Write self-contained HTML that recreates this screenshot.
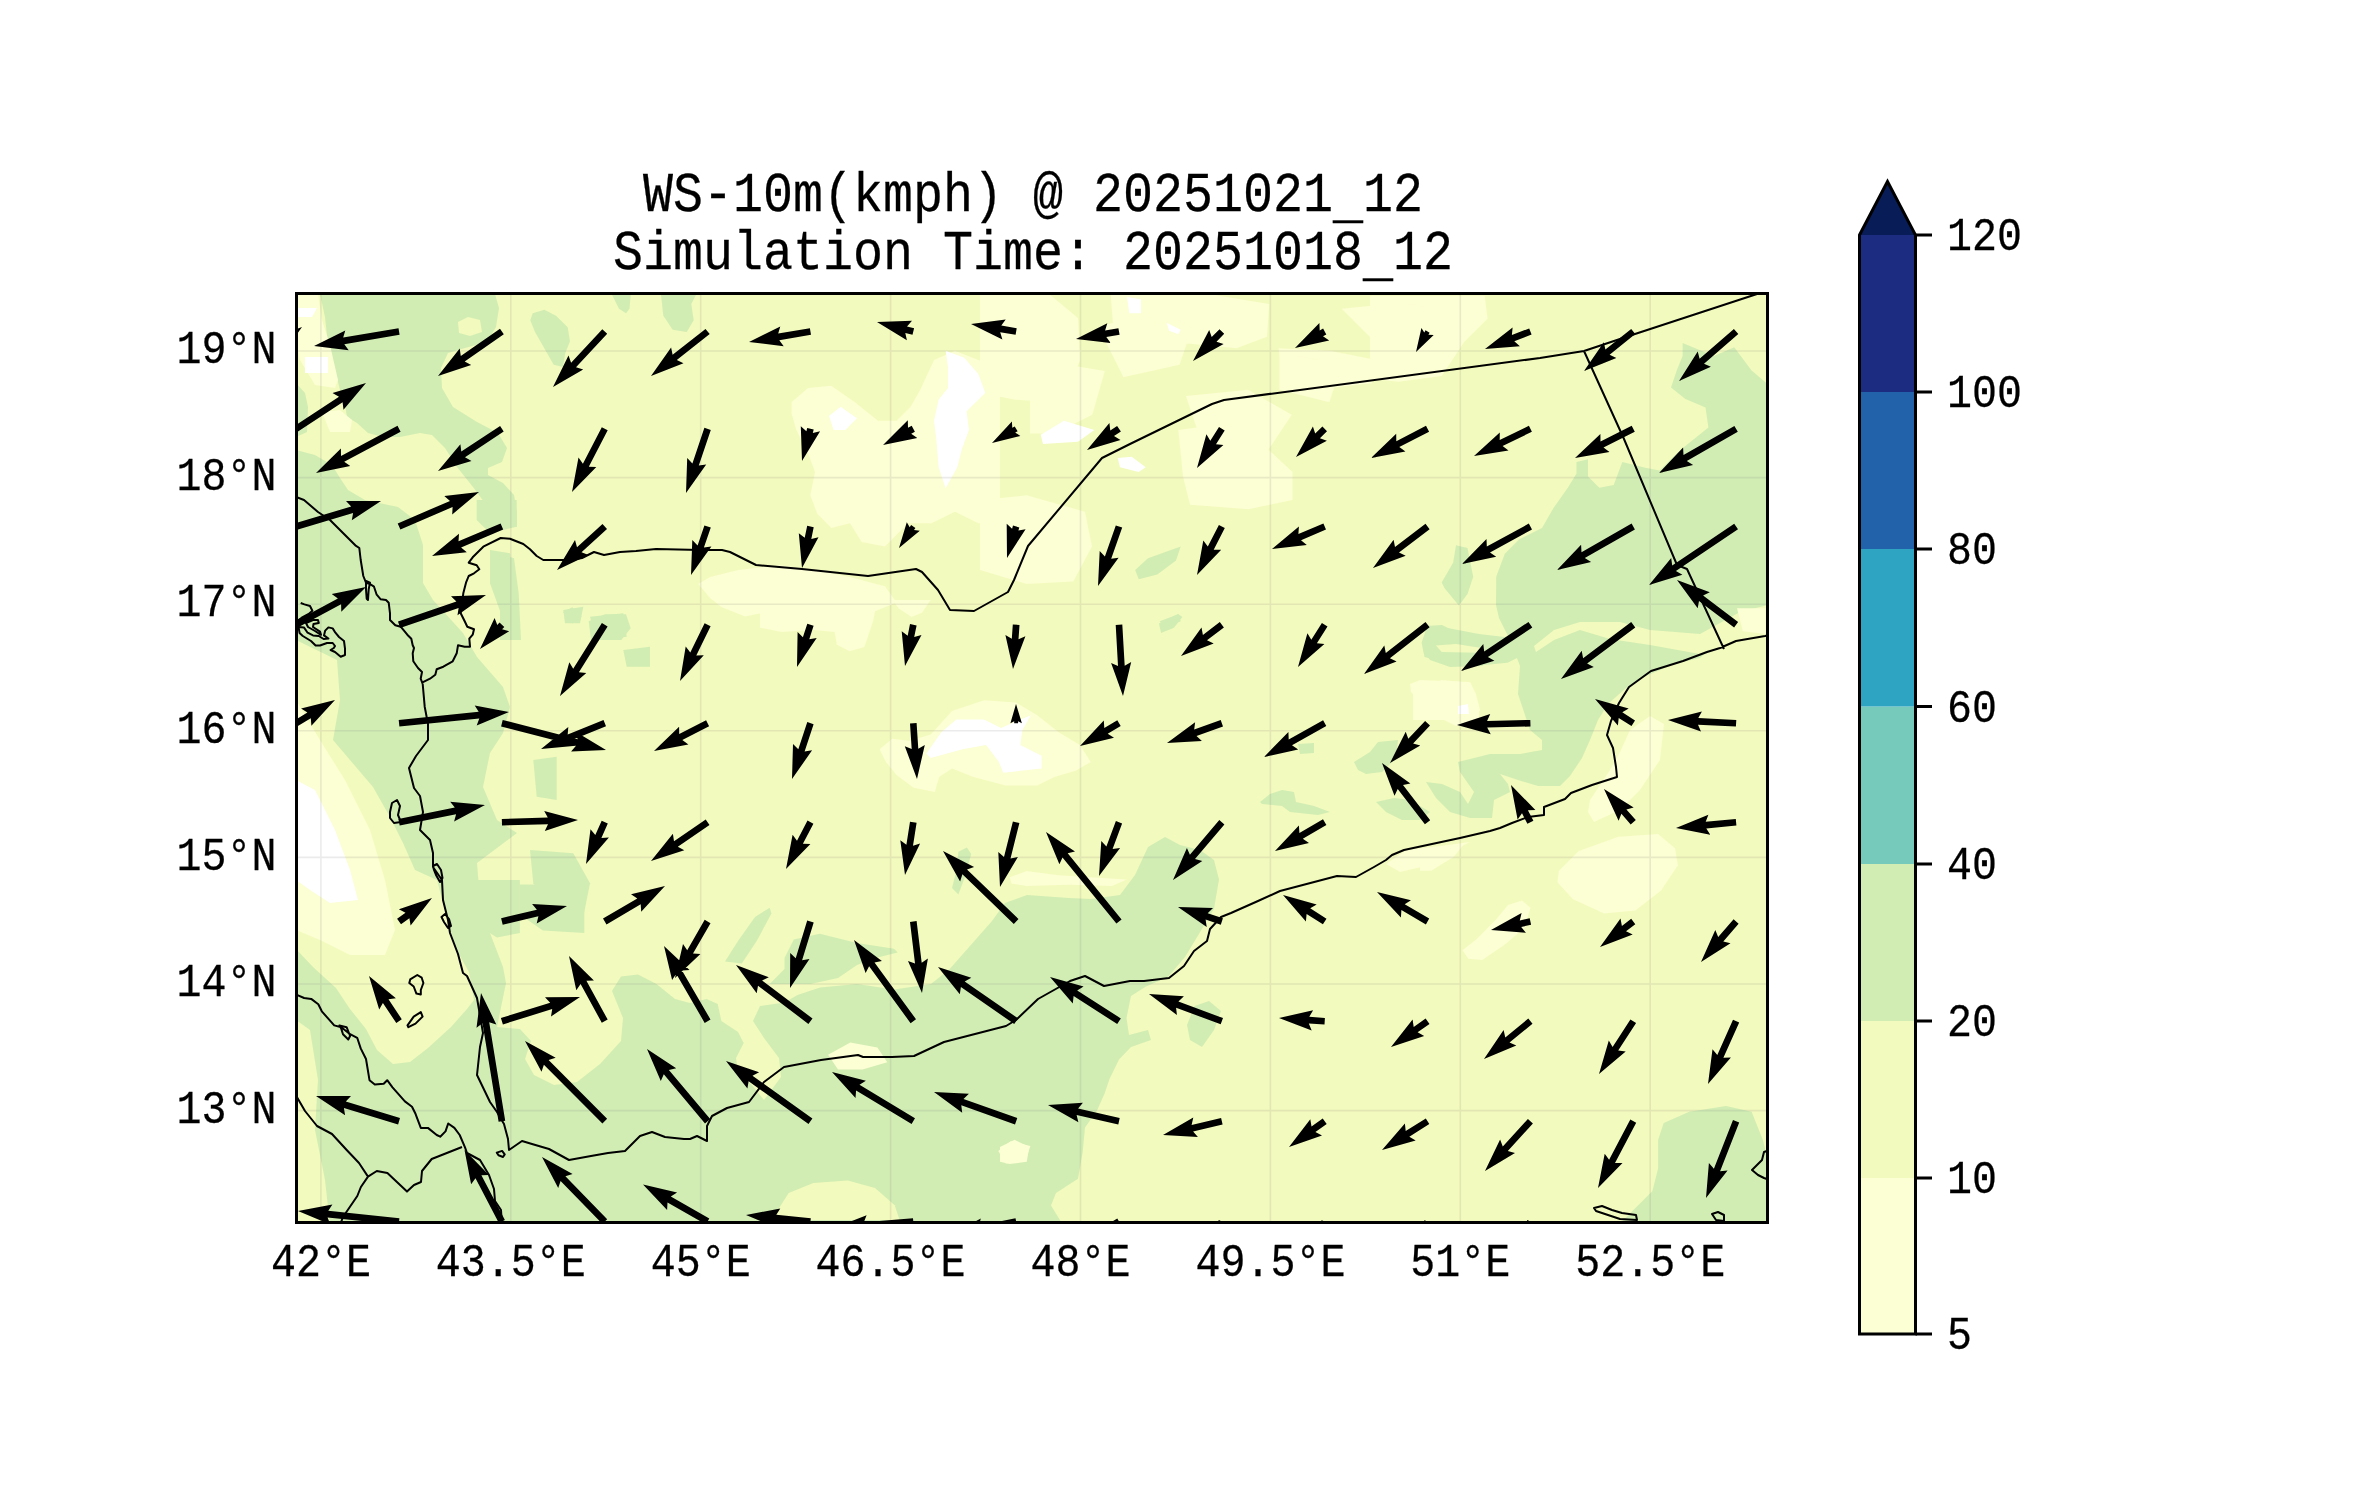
<!DOCTYPE html><html><head><meta charset="utf-8"><style>html,body{margin:0;padding:0;background:#fff;overflow:hidden}svg{display:block;will-change:transform}text{font-family:"Liberation Mono",monospace;fill:#000;stroke:#000;stroke-width:0.25px}</style></head><body>
<svg width="2371" height="1500" viewBox="0 0 2371 1500">
<rect width="2371" height="1500" fill="#fff"/>
<defs><clipPath id="ax"><rect x="296.5" y="293.5" width="1471.0" height="929.0"/></clipPath></defs>
<g clip-path="url(#ax)">
<rect x="296.5" y="293.5" width="1471.0" height="929.0" fill="#f3fabd"/>
<polygon fill="#d1edb3" points="320.0,294.0 495.0,294.0 499.0,308.0 496.0,327.0 487.0,342.0 465.0,348.0 448.0,353.0 441.0,368.0 442.0,388.0 453.0,407.0 477.0,422.0 498.0,433.0 507.0,448.0 502.0,462.0 488.0,468.0 488.0,475.0 503.0,483.0 514.0,495.0 517.0,512.0 517.0,527.0 505.0,527.0 490.0,510.0 473.0,487.0 457.0,467.0 445.0,448.0 432.0,435.0 420.0,433.0 400.0,437.0 383.0,437.0 368.0,433.0 357.0,423.0 347.0,417.0 345.0,405.0 340.0,390.0 335.0,370.0 328.0,345.0 325.0,317.0"/>
<polygon fill="#d1edb3" points="296.0,383.0 305.0,393.0 308.0,407.0 307.0,432.0 296.0,437.0"/>
<polygon fill="#d1edb3" points="296.0,450.0 315.0,455.0 332.0,465.0 340.0,478.0 348.0,490.0 365.0,500.0 398.0,507.0 415.0,520.0 423.0,545.0 423.0,583.0 433.0,600.0 463.0,633.0 477.0,657.0 503.0,687.0 510.0,707.0 503.0,733.0 490.0,753.0 483.0,787.0 497.0,820.0 517.0,833.0 477.0,863.0 480.0,900.0 490.0,933.0 503.0,967.0 506.0,983.0 497.0,1027.0 520.0,1029.0 531.0,1041.0 525.0,1059.0 534.0,1075.0 554.0,1085.0 577.0,1082.0 600.0,1064.0 621.0,1041.0 623.0,1018.0 612.0,991.0 621.0,976.5 638.0,974.6 656.5,984.0 675.0,999.0 690.0,1003.0 706.6,999.0 717.7,1004.0 721.4,1021.0 738.0,1032.0 743.7,1043.0 736.0,1058.0 738.0,1073.0 751.0,1084.0 764.0,1100.0 781.0,1077.0 779.0,1058.0 764.0,1038.0 753.0,1021.0 760.0,1006.0 784.5,1002.5 797.5,995.0 820.0,987.6 857.0,984.0 894.0,989.5 931.0,984.0 949.7,969.0 992.0,921.0 1005.0,903.0 1027.0,895.0 1069.0,898.0 1091.0,899.0 1120.0,895.0 1135.0,875.0 1148.0,847.0 1165.0,837.0 1180.0,845.0 1200.0,850.0 1214.0,860.0 1219.0,879.5 1214.0,908.7 1199.5,933.0 1185.0,957.0 1168.0,977.0 1146.0,986.5 1131.0,996.0 1126.5,1018.0 1129.0,1035.0 1148.0,1030.0 1151.0,1040.0 1131.0,1047.0 1119.0,1059.5 1109.5,1079.0 1104.6,1093.5 1097.0,1110.6 1085.0,1127.6 1082.7,1152.0 1078.0,1178.7 1056.0,1193.0 1051.0,1205.5 1063.0,1225.0 296.0,1225.0"/>
<polygon fill="#d1edb3" points="1194.6,1006.0 1209.0,1001.0 1221.0,1011.0 1214.0,1030.0 1202.0,1047.0 1190.0,1040.0 1187.0,1025.0"/>
<polygon fill="#d1edb3" points="784.5,958.0 793.8,939.4 819.8,933.8 857.0,943.0 894.0,948.7 897.7,952.4 875.5,958.0 857.0,965.0 838.0,978.0 810.5,984.0 769.7,984.0 784.5,969.0"/>
<polygon fill="#d1edb3" points="725.0,961.6 738.0,941.0 755.0,917.0 769.7,907.8 771.5,913.4 756.7,941.0 741.8,963.5"/>
<polygon fill="#d1edb3" points="1682.6,343.0 1714.0,356.0 1734.2,347.3 1751.4,370.3 1768.0,384.6 1768.0,605.0 1740.0,612.0 1720.0,640.0 1700.0,658.0 1674.0,664.0 1646.0,676.0 1626.0,688.0 1608.0,704.0 1598.0,720.0 1590.0,740.0 1582.0,758.0 1570.0,776.0 1560.0,786.0 1538.0,786.0 1518.0,780.0 1500.0,774.0 1508.0,784.0 1510.0,792.0 1494.0,800.0 1492.0,818.0 1470.0,818.0 1450.0,812.0 1436.0,798.0 1426.0,782.0 1442.0,784.0 1460.0,792.0 1468.0,804.0 1474.0,792.0 1460.0,772.0 1458.0,762.0 1490.0,754.0 1520.0,754.0 1542.0,750.0 1542.0,740.0 1530.0,730.0 1524.0,712.0 1518.0,694.0 1520.0,666.0 1510.0,640.0 1499.0,618.0 1496.0,605.0 1496.2,576.7 1504.8,553.8 1519.0,539.5 1542.0,528.0 1553.5,508.0 1567.8,487.8 1576.5,473.5 1576.5,462.0 1588.0,459.2 1588.0,476.4 1599.4,487.8 1613.7,485.0 1622.3,462.0 1645.3,467.8 1659.6,470.6 1679.7,450.6 1708.4,427.6 1705.5,407.6 1685.4,399.0 1671.0,387.5 1676.8,370.3 1682.6,356.0"/>
<polygon fill="#d1edb3" points="1427.3,625.5 1450.3,628.4 1479.0,634.1 1504.8,637.0 1524.8,634.1 1530.6,651.3 1507.6,662.8 1479.0,665.6 1447.4,662.8 1424.5,657.0 1421.6,642.7"/>
<polygon fill="#d1edb3" points="1456.0,545.2 1467.5,548.1 1473.2,576.7 1467.5,593.9 1458.9,605.4 1444.6,588.2 1441.7,582.5 1453.2,562.4"/>
<polygon fill="#d1edb3" points="1354.0,762.0 1370.0,752.0 1378.0,742.0 1398.0,740.0 1396.0,758.0 1382.0,772.0 1366.0,774.0 1358.0,770.0"/>
<polygon fill="#d1edb3" points="1298.0,744.0 1314.0,743.0 1314.0,753.0 1300.0,754.0"/>
<polygon fill="#d1edb3" points="1260.0,802.0 1270.0,794.0 1282.0,790.0 1294.0,792.0 1296.0,802.0 1314.0,806.0 1330.0,812.0 1318.0,815.0 1290.0,812.0 1282.0,806.0 1262.0,804.0"/>
<polygon fill="#d1edb3" points="1376.0,802.0 1394.0,798.0 1410.0,800.0 1430.0,812.0 1420.0,820.0 1402.0,820.0 1386.0,812.0"/>
<polygon fill="#d1edb3" points="1426.0,626.0 1442.0,625.0 1462.0,635.0 1480.0,637.0 1480.0,652.0 1496.0,655.0 1482.0,666.0 1450.0,667.0 1430.0,660.0 1423.0,650.0 1430.0,646.0 1446.0,654.0 1470.0,652.0 1460.0,644.0 1442.0,640.0 1426.0,634.0"/>
<polygon fill="#d1edb3" points="1663.7,1123.1 1689.2,1111.7 1726.1,1106.1 1751.6,1111.7 1762.9,1140.1 1770.0,1168.4 1770.0,1225.1 1618.4,1225.1 1635.4,1208.1 1652.4,1191.1 1658.1,1168.4 1658.1,1140.1"/>
<polygon fill="#d1edb3" points="532.7,313.3 544.3,309.8 556.0,315.7 567.7,327.3 570.0,341.3 565.3,353.0 563.0,367.0 553.7,364.7 544.3,348.3 535.0,332.0 530.3,320.3"/>
<polygon fill="#d1edb3" points="612.0,294.7 630.7,294.7 629.5,308.7 626.0,313.3 619.0,308.7"/>
<polygon fill="#d1edb3" points="661.0,294.7 696.0,294.7 691.3,304.0 693.7,320.3 686.7,332.0 672.7,329.7 663.3,315.7"/>
<polygon fill="#d1edb3" points="500.0,553.6 514.0,558.3 518.7,593.3 521.0,640.0 500.0,640.0"/>
<polygon fill="#d1edb3" points="563.0,612.0 572.3,607.3 581.7,616.6 572.3,623.6"/>
<polygon fill="#d1edb3" points="588.7,621.3 605.0,614.3 626.0,614.3 630.7,628.3 621.3,640.0 591.0,640.0"/>
<polygon fill="#d1edb3" points="1135.2,570.0 1148.0,558.3 1180.7,546.6 1176.0,560.6 1157.3,574.6 1138.7,579.3"/>
<polygon fill="#d1edb3" points="1159.7,621.3 1178.3,614.3 1180.7,621.3 1164.3,628.3"/>
<polygon fill="#d1edb3" points="1158.9,623.5 1178.1,613.9 1182.4,617.1 1173.9,627.7 1161.1,633.1"/>
<polygon fill="#d1edb3" points="958.4,851.7 966.9,847.5 971.2,853.9 964.8,877.3 958.4,894.4 952.0,888.0 956.3,870.9"/>
<polygon fill="#d1edb3" points="476.7,500.0 516.7,500.0 516.7,526.7 490.0,533.3 476.7,520.0"/>
<polygon fill="#d1edb3" points="490.0,550.0 510.0,553.3 516.7,616.7 503.3,620.0 490.0,583.3"/>
<polygon fill="#d1edb3" points="530.0,850.0 573.3,853.3 590.0,883.3 583.3,916.7 556.7,913.3 533.3,883.3"/>
<polygon fill="#d1edb3" points="533.3,760.0 556.7,756.7 556.7,800.0 536.7,796.7"/>
<polygon fill="#d1edb3" points="563.3,610.0 583.3,606.7 580.0,623.3 565.0,623.3"/>
<polygon fill="#d1edb3" points="590.0,616.7 623.3,613.3 626.7,636.7 596.7,640.0"/>
<polygon fill="#d1edb3" points="623.3,650.0 650.0,646.7 650.0,666.7 626.7,666.7"/>
<polygon fill="#d1edb3" points="474.0,880.0 519.9,880.0 519.9,932.9 496.9,937.5 478.5,926.0"/>
<polygon fill="#d1edb3" points="519.9,884.6 584.3,884.6 584.3,932.9 542.9,930.6 519.9,914.5"/>
<polygon fill="#f3fabd" points="296.0,640.0 337.0,660.0 340.0,700.0 333.0,740.0 350.0,760.0 373.0,787.0 390.0,817.0 403.0,843.0 415.0,870.0 437.0,880.0 446.0,914.0 456.0,949.0 469.0,972.0 474.0,1000.0 467.0,1009.0 451.0,1027.0 428.0,1048.0 410.0,1062.0 393.0,1064.0 377.0,1050.0 366.0,1029.0 350.0,1009.0 336.0,988.0 313.0,967.0 296.0,949.0"/>
<polygon fill="#f3fabd" points="296.0,1020.0 310.0,1030.0 318.0,1080.0 315.0,1130.0 325.0,1180.0 330.0,1225.0 296.0,1225.0"/>
<polygon fill="#f3fabd" points="458.0,322.0 468.0,317.0 480.0,320.0 482.0,332.0 470.0,336.0 459.0,333.0"/>
<polygon fill="#f3fabd" points="1534.0,646.0 1554.0,630.0 1580.0,622.0 1620.0,622.0 1650.0,630.0 1700.0,634.0 1740.0,612.0 1730.0,640.0 1700.0,654.0 1650.0,645.0 1610.0,639.0 1580.0,630.0 1554.0,640.0 1536.0,652.0"/>
<polygon fill="#f3fabd" points="1435.9,645.6 1456.0,644.1 1484.7,648.4 1479.0,652.7 1441.7,651.9"/>
<polygon fill="#f3fabd" points="771.4,1220.1 788.7,1193.0 813.3,1183.1 847.8,1180.6 875.0,1188.0 894.7,1205.3 899.6,1220.1"/>
<polygon fill="#fcfed3" points="296.0,294.0 318.0,294.0 322.0,320.0 330.0,345.0 338.0,380.0 335.0,388.0 315.0,385.0 300.0,360.0 296.0,340.0"/>
<polygon fill="#fcfed3" points="322.0,412.0 340.0,410.0 352.0,420.0 350.0,432.0 330.0,432.0"/>
<polygon fill="#fcfed3" points="296.0,700.0 320.0,740.0 345.0,780.0 370.0,830.0 385.0,880.0 395.0,930.0 385.0,955.0 350.0,955.0 320.0,940.0 296.0,930.0"/>
<polygon fill="#fcfed3" points="791.6,402.0 808.0,388.0 831.3,385.7 854.6,402.0 878.0,420.7 896.6,420.7 910.6,406.7 920.0,390.3 934.0,360.0 955.0,350.7 978.3,360.0 1000.0,367.0 1000.0,523.3 978.3,523.3 955.0,511.7 931.6,523.3 908.3,523.3 885.0,546.6 861.6,542.0 850.0,523.3 831.3,528.0 817.3,514.0 810.3,495.3 815.0,472.0 808.0,453.3 796.3,430.0 791.6,413.7"/>
<polygon fill="#fcfed3" points="698.3,584.0 710.0,577.0 738.0,570.0 780.0,565.3 815.0,570.0 850.0,577.0 885.0,586.3 896.6,602.6 873.3,612.0 838.3,605.0 815.0,605.0 780.0,609.6 745.0,616.6 721.7,607.3 710.0,598.0"/>
<polygon fill="#fcfed3" points="980.0,294.7 1050.0,294.7 1078.0,318.0 1080.3,360.0 1068.7,388.0 1050.0,402.0 1015.0,399.7 980.0,392.7"/>
<polygon fill="#fcfed3" points="1110.7,294.7 1213.3,294.7 1269.3,304.0 1267.0,336.7 1236.6,348.3 1190.0,343.7 1143.3,343.7 1113.0,325.0"/>
<polygon fill="#fcfed3" points="1278.6,348.3 1330.0,350.7 1376.6,360.0 1372.0,383.3 1330.0,388.0 1283.3,378.7"/>
<polygon fill="#fcfed3" points="1178.3,430.0 1213.3,425.3 1260.0,441.7 1292.6,472.0 1292.6,500.0 1248.3,509.3 1190.0,504.7 1183.0,476.7"/>
<polygon fill="#fcfed3" points="980.0,500.0 1026.7,495.3 1085.0,511.7 1092.0,546.6 1073.3,581.6 1026.7,584.0 980.0,570.0"/>
<polygon fill="#fcfed3" points="879.5,749.3 892.3,738.7 909.3,740.8 930.7,734.4 952.0,710.9 984.0,700.3 1016.0,702.4 1037.3,715.2 1058.7,732.3 1080.0,745.1 1090.7,762.1 1075.7,770.7 1054.4,777.1 1037.3,785.6 1005.3,785.6 973.3,777.1 952.0,768.5 939.2,777.1 934.9,792.0 913.6,787.7 896.5,774.9 885.9,762.1"/>
<polygon fill="#fcfed3" points="760.0,608.5 792.0,604.3 834.7,600.0 877.3,600.0 873.1,621.3 864.5,646.9 849.6,651.2 836.8,644.8 834.7,632.0 813.3,629.9 781.3,632.0 760.0,627.7"/>
<polygon fill="#fcfed3" points="892.3,600.0 930.7,600.0 922.1,612.8 911.5,617.1 898.7,608.5"/>
<polygon fill="#fcfed3" points="1009.6,877.3 1026.7,870.9 1058.7,875.2 1090.7,877.3 1126.9,879.5 1112.0,885.9 1069.3,884.8 1026.7,885.9 1011.7,883.7"/>
<polygon fill="#fcfed3" points="1410.0,684.0 1420.0,680.0 1470.0,682.0 1476.0,694.0 1480.0,710.0 1474.0,720.0 1456.0,726.0 1440.0,718.0 1420.0,702.0 1411.0,692.0"/>
<polygon fill="#fcfed3" points="1590.0,800.0 1610.0,770.0 1620.0,752.0 1630.0,730.0 1650.0,716.0 1664.0,724.0 1660.0,760.0 1640.0,790.0 1620.0,810.0 1594.0,822.0 1588.0,812.0"/>
<polygon fill="#fcfed3" points="1386.0,864.0 1406.0,850.0 1440.0,846.0 1470.0,842.0 1450.0,852.0 1426.0,866.0 1400.0,872.0"/>
<polygon fill="#fcfed3" points="1558.9,870.8 1578.7,851.0 1618.4,836.8 1658.1,834.0 1675.1,848.2 1677.9,865.2 1660.9,890.7 1635.4,910.5 1604.2,913.4 1573.0,899.2 1557.4,882.2"/>
<polygon fill="#fcfed3" points="1462.5,950.2 1476.7,938.9 1496.5,919.0 1507.9,904.9 1522.0,900.6 1530.5,907.7 1524.9,927.5 1505.0,944.5 1482.3,960.1 1468.2,958.7"/>
<polygon fill="#fcfed3" points="1420.0,862.3 1442.7,851.0 1465.3,842.5 1454.0,856.7 1431.3,870.8 1420.0,870.8"/>
<polygon fill="#fcfed3" points="1370.0,295.7 1484.7,295.7 1487.6,318.7 1464.6,341.6 1441.7,376.0 1398.7,381.8 1370.0,378.9"/>
<polygon fill="#fcfed3" points="1413.0,691.4 1441.7,680.0 1470.4,682.8 1479.0,705.8 1479.0,720.1 1413.0,720.1"/>
<polygon fill="#fcfed3" points="1737.0,608.3 1765.7,608.3 1765.7,634.1 1742.8,631.2"/>
<polygon fill="#fcfed3" points="828.1,1054.8 850.3,1042.5 877.4,1047.4 887.3,1062.2 862.6,1069.6 838.0,1069.6"/>
<polygon fill="#fcfed3" points="998.3,1151.0 1010.6,1141.2 1030.4,1146.1 1025.4,1160.9 1005.7,1163.4"/>
<polygon fill="#fcfed3" points="1000.0,1147.1 1014.6,1139.8 1029.2,1147.1 1026.8,1161.7 1009.7,1164.1 1000.0,1161.7"/>
<polygon fill="#fcfed3" points="1030.0,383.5 1067.4,364.8 1104.8,371.0 1092.3,414.7 1054.9,433.4 1030.0,433.4"/>
<polygon fill="#fcfed3" points="1098.6,327.4 1154.7,308.7 1192.1,327.4 1179.6,364.8 1123.5,377.3"/>
<polygon fill="#fcfed3" points="1341.7,308.7 1404.1,302.5 1460.2,314.9 1435.2,339.9 1372.9,339.9"/>
<polygon fill="#fcfed3" points="1185.9,396.0 1248.2,389.8 1291.8,414.7 1266.9,452.1 1204.6,452.1"/>
<polygon fill="#fcfed3" points="1279.4,352.3 1341.7,364.8 1329.3,402.2 1279.4,389.8"/>
<polygon fill="#ffffff" points="296.0,780.0 315.0,790.0 335.0,830.0 350.0,870.0 358.0,900.0 330.0,903.0 310.0,890.0 296.0,880.0"/>
<polygon fill="#ffffff" points="297.0,308.0 317.0,308.0 312.0,317.0 297.0,317.0"/>
<polygon fill="#ffffff" points="305.0,357.0 328.0,357.0 328.0,373.0 305.0,373.0"/>
<polygon fill="#ffffff" points="945.6,350.7 964.3,357.7 978.3,374.0 985.3,392.7 978.3,399.7 966.6,411.3 969.0,430.0 962.0,448.7 957.3,467.3 945.6,488.3 938.6,467.3 936.3,439.3 934.0,420.7 938.6,399.7 948.0,388.0 948.0,367.0"/>
<polygon fill="#ffffff" points="829.0,416.0 840.6,406.7 857.0,418.3 845.3,430.0 833.6,430.0"/>
<polygon fill="#ffffff" points="926.4,753.6 941.3,732.3 956.3,719.5 984.0,719.5 1001.1,728.0 1020.3,719.5 1030.9,715.2 1022.4,730.1 1020.3,745.1 1041.6,755.7 1041.6,768.5 1003.2,772.8 998.9,762.1 986.1,745.1 962.7,749.3 930.7,757.9"/>
<polygon fill="#ffffff" points="1127.0,297.0 1141.0,299.3 1141.0,313.3 1129.3,313.3"/>
<polygon fill="#ffffff" points="1166.7,322.7 1180.7,329.7 1178.3,334.3 1169.0,330.8"/>
<polygon fill="#ffffff" points="1040.7,434.7 1064.0,420.7 1094.3,430.0 1078.0,441.7 1043.0,444.0"/>
<polygon fill="#ffffff" points="1117.7,458.0 1131.7,456.8 1145.7,467.3 1138.7,472.0 1120.0,467.3"/>
<polygon fill="#ffffff" points="1458.0,706.0 1468.0,704.0 1469.0,714.0 1458.0,714.0"/>
<path d="M320.9 293.5V1222.5M510.8 293.5V1222.5M700.7 293.5V1222.5M890.6 293.5V1222.5M1080.5 293.5V1222.5M1270.4 293.5V1222.5M1460.3 293.5V1222.5M1650.2 293.5V1222.5M296.5 1110.6H1767.5M296.5 984.0H1767.5M296.5 857.4H1767.5M296.5 730.8H1767.5M296.5 604.2H1767.5M296.5 477.6H1767.5M296.5 351.0H1767.5" stroke="#808080" stroke-opacity="0.16" stroke-width="1.6" fill="none"/>
<path d="M296.0 497.0L304.0 500.0L318.0 512.0L330.0 520.0L340.0 530.0L355.3 545.3L359.3 548.0L360.7 560.0L363.3 576.0L366.0 582.7L370.0 584.0L374.0 586.7L376.7 594.7L380.7 599.3L386.0 600.0L388.7 602.7L390.0 613.3L390.0 620.0L395.3 625.3L400.7 626.7L407.3 634.7L411.3 638.7L412.7 645.3L414.0 648.0L412.7 653.3L413.3 661.3L418.0 668.0L422.0 672.0L420.7 678.7L422.7 684.0L424.7 706.7L428.0 724.0L428.0 740.0L416.0 756.0L409.0 768.0L414.0 788.0L420.0 796.0L423.0 812.0L420.0 830.0L430.0 840.0L433.0 853.0L433.0 867.0L442.0 880.0L443.0 900.0L448.0 920.0L450.0 933.0L458.0 954.0L463.0 973.0L467.0 976.0L477.0 998.0L483.0 1033.0L480.0 1047.0L477.0 1075.0L490.0 1102.0L497.0 1112.0L504.0 1124.0L508.0 1139.0L509.0 1150.0L522.0 1141.0L532.0 1144.0L549.0 1149.0L569.0 1160.0L591.0 1156.0L608.0 1153.0L625.0 1151.0L640.0 1136.0L652.0 1132.0L665.0 1137.0L684.0 1139.0L690.0 1139.0L697.0 1136.0L707.0 1141.0L707.0 1126.0L712.0 1116.0L727.0 1108.0L749.0 1102.0L764.0 1082.0L784.0 1067.0L821.0 1060.0L858.0 1055.0L863.0 1057.0L892.0 1057.0L914.0 1056.0L944.0 1042.0L1006.0 1026.0L1016.0 1020.0L1038.0 999.0L1070.0 981.0L1085.0 976.0L1104.0 986.0L1130.0 981.0L1144.0 981.0L1169.0 978.0L1184.0 966.0L1194.0 951.0L1207.0 941.0L1210.0 929.0L1221.0 917.0L1231.0 913.0L1258.0 901.0L1280.0 891.0L1337.0 876.0L1356.0 877.0L1374.0 867.0L1386.0 860.0L1392.0 855.0L1404.0 850.0L1460.0 838.0L1490.0 831.0L1500.0 828.0L1512.0 823.0L1528.0 817.0L1544.0 815.0L1544.0 807.0L1565.0 799.0L1571.0 793.0L1592.0 785.0L1617.0 777.0L1616.0 767.0L1613.0 748.0L1607.0 735.0L1611.0 721.0L1619.0 703.0L1629.0 687.0L1651.0 671.0L1683.0 661.0L1707.0 652.0L1720.0 648.0L1736.0 641.0L1765.0 636.0L1770.0 635.0M422.0 682.7L430.0 678.7L435.3 674.7L436.7 669.3L443.3 666.7L452.7 661.3L456.7 653.3L458.0 645.3L464.7 646.7L470.0 646.7L469.3 638.7L472.7 634.7L474.0 629.3L467.3 626.7L464.7 621.3L460.7 613.3L463.3 593.3L466.0 582.7L468.7 576.0L474.0 573.3L479.3 569.3L476.7 565.3L468.7 562.7L472.7 557.3L483.3 546.7L500.7 538.0L510.0 538.7L523.3 544.0L530.0 549.3L536.7 556.0L543.3 560.0L560.0 560.0L572.0 560.0L582.0 558.0L594.0 552.0L604.0 555.0L620.0 552.0L636.0 551.0L656.0 549.0L700.0 550.0L722.0 550.0L730.0 552.0L750.0 562.0L756.0 565.0L802.0 569.0L868.0 576.0L916.0 569.0L922.0 572.0L938.0 590.0L950.0 610.0L974.0 611.0L1008.0 592.0L1014.0 580.0L1028.0 546.0L1102.0 458.0L1130.0 444.0L1212.0 404.0L1224.0 400.0L1540.0 358.0L1584.0 351.0L1635.0 334.0L1757.0 294.0L1770.0 290.0M1584.0 351.0L1624.0 439.0L1677.0 565.0L1687.0 569.0L1724.0 649.0M294.0 995.0L298.0 995.3L304.1 998.0L311.2 998.9L318.3 1004.2L321.8 1011.3L334.2 1025.4L341.3 1027.2L350.1 1034.2L357.2 1037.8L360.7 1048.4L366.0 1059.0L369.5 1080.2L374.8 1084.6L383.7 1083.7L387.2 1080.2L392.5 1087.3L404.9 1101.4L412.0 1106.7L415.5 1113.8L420.8 1127.9L427.9 1127.9L436.7 1135.0L440.2 1136.7L445.5 1131.4L448.2 1123.5L454.4 1127.9L459.7 1135.0L465.0 1147.3L467.0 1153.0L480.0 1160.0L489.0 1175.0L494.0 1189.0L495.0 1201.0L501.0 1210.0L502.0 1225.0M294.0 1092.0L305.0 1111.0L317.0 1126.0L332.0 1134.0L346.7 1150.0L359.0 1163.0L368.0 1176.6M368.0 1176.6L376.8 1171.0L387.4 1173.0L407.0 1191.6L414.0 1185.0L421.0 1182.0L422.0 1171.0L431.7 1159.0L462.0 1147.0M368.0 1176.6L360.9 1187.0L357.3 1196.0L343.0 1217.0L340.0 1225.0M300.7 603.0L304.4 604.4L310.0 606.0L312.4 610.8L308.7 614.0L301.7 617.7L298.5 620.0L294.0 623.0M433.0 866.0L437.0 864.0L441.0 870.0L442.5 878.0L440.0 882.0L436.0 875.0L434.0 870.0ZM441.5 917.0L445.0 914.0L449.0 919.0L451.0 926.0L448.0 928.0L444.0 922.0ZM366.0 581.0L370.0 582.7L368.7 589.3L368.0 600.0L366.7 598.7L366.0 589.3ZM298.5 627.0L299.6 633.0L302.8 636.0L311.0 641.0L315.6 645.5L320.0 645.5L327.0 643.0L332.7 643.0L335.0 646.0L333.8 648.0L330.6 650.0L335.0 652.0L340.7 656.7L345.0 655.0L345.0 648.7L344.0 641.0L339.0 637.0L335.4 632.7L332.7 628.4L328.4 627.4L325.2 630.6L324.0 635.4L328.4 638.6L323.6 639.0L318.8 636.0L313.0 635.4L307.6 632.7L303.9 627.4ZM306.0 623.0L313.0 620.0L318.0 620.0L318.8 623.0L313.5 624.0L313.0 627.0L320.0 631.6L321.0 634.8L315.0 631.0L308.0 627.0ZM390.0 812.0L392.0 803.0L397.0 800.0L400.0 806.0L398.0 815.0L401.0 822.0L394.0 823.0L390.0 818.0ZM410.2 979.4L417.3 975.0L421.7 977.7L423.4 983.0L420.8 990.0L420.8 994.5L416.4 993.6L413.7 986.5L409.3 983.0ZM407.5 1025.4L413.7 1016.6L420.8 1012.1L422.6 1016.6L415.5 1023.6L408.4 1027.2ZM339.5 1025.4L346.6 1027.2L350.1 1036.0L348.3 1039.5L343.0 1034.2L341.3 1028.9ZM496.8 1152.6L502.1 1150.9L504.7 1154.4L503.0 1157.0L498.5 1155.3ZM1594.0 1208.0L1602.0 1206.0L1612.0 1210.0L1622.0 1213.0L1636.0 1215.0L1637.0 1220.0L1620.0 1219.0L1605.0 1214.0L1596.0 1211.0ZM1712.0 1214.0L1718.0 1212.0L1724.0 1215.0L1724.0 1221.0L1716.0 1220.0ZM1770.0 1150.0L1764.0 1152.0L1762.0 1160.0L1756.0 1166.0L1752.0 1170.0L1758.0 1175.0L1764.0 1178.0L1770.0 1180.0" stroke="#000" stroke-width="2" fill="none" stroke-linejoin="round"/>
<path d="M296.6 332.1L297.2 331.6L297.6 333.2L302.0 327.0L294.8 329.8L296.3 330.5L295.8 330.9ZM398.5 328.2L343.2 337.6L345.3 330.5L314.0 346.0L348.7 350.3L344.3 344.2L399.6 334.8ZM500.0 328.8L460.8 356.0L459.7 348.6L438.0 376.0L471.2 365.1L464.7 361.5L503.8 334.2ZM602.3 329.2L571.1 362.7L568.5 355.6L553.0 387.0L583.2 369.4L576.0 367.2L607.2 333.8ZM705.5 328.9L672.6 354.7L671.1 347.4L651.0 376.0L683.5 363.2L676.8 360.0L709.7 334.1ZM809.9 328.2L778.2 333.6L780.3 326.5L749.0 342.0L783.7 346.3L779.3 340.2L811.0 334.8ZM914.1 328.3L907.0 326.4L912.0 320.8L877.0 322.0L906.9 340.2L905.3 332.9L912.5 334.7ZM1016.7 328.2L1001.3 325.6L1005.7 319.6L971.0 324.0L1002.4 339.4L1000.2 332.2L1015.6 334.8ZM1118.4 328.2L1105.1 330.5L1107.3 323.3L1076.0 339.0L1110.7 343.1L1106.3 337.1L1119.6 334.8ZM1219.5 329.2L1211.7 337.1L1209.2 330.0L1193.0 361.0L1223.6 344.1L1216.5 341.8L1224.2 333.8ZM1323.1 328.6L1319.7 330.4L1319.4 322.9L1295.0 348.0L1329.2 340.5L1323.0 336.3L1326.3 334.4ZM1425.5 330.3L1424.3 332.4L1421.4 328.0L1416.0 352.0L1433.7 335.0L1428.4 334.7L1429.6 332.7ZM1529.2 328.4L1511.9 335.0L1512.6 327.6L1485.0 349.0L1519.9 346.3L1514.3 341.3L1531.6 334.6ZM1631.2 328.9L1605.4 349.5L1603.8 342.2L1584.0 371.0L1616.4 357.9L1609.6 354.7L1635.3 334.1ZM1733.9 329.0L1699.6 358.7L1697.7 351.5L1679.0 381.0L1710.9 366.7L1704.0 363.8L1738.3 334.0ZM298.0 431.6L342.6 402.3L343.5 409.8L366.0 383.0L332.5 393.0L339.0 396.7L294.4 426.0ZM397.5 425.8L341.0 455.9L340.9 448.4L316.0 473.0L350.3 466.1L344.2 461.8L400.6 431.8ZM500.1 426.0L461.3 451.6L460.4 444.2L438.0 471.0L471.5 460.9L465.0 457.2L503.7 431.6ZM601.8 427.3L582.9 463.7L578.5 457.6L572.0 492.0L596.3 466.9L588.8 466.8L607.7 430.3ZM704.4 427.7L692.4 463.4L687.2 458.0L686.0 493.0L706.2 464.5L698.8 465.5L710.8 429.9ZM807.2 428.0L806.4 431.2L800.8 426.3L802.0 461.0L820.1 431.3L812.8 432.9L813.7 429.6ZM911.7 425.8L908.0 427.8L907.8 420.3L883.0 445.0L917.3 438.1L911.2 433.7L914.9 431.8ZM1014.7 426.4L1012.3 427.8L1011.9 421.6L992.0 443.0L1020.4 436.0L1015.2 432.6L1017.6 431.2ZM1117.1 426.0L1110.3 430.6L1109.4 423.1L1087.0 450.0L1120.5 439.9L1114.0 436.1L1120.9 431.6ZM1219.0 427.0L1210.3 440.7L1206.4 434.3L1197.0 468.0L1223.4 445.1L1216.0 444.3L1224.7 430.6ZM1322.4 426.4L1315.2 433.5L1312.9 426.4L1296.0 457.0L1326.9 440.7L1319.9 438.3L1327.0 431.2ZM1426.0 425.8L1396.3 441.2L1396.2 433.7L1371.0 458.0L1405.4 451.6L1399.3 447.1L1429.1 431.8ZM1528.9 425.8L1499.7 439.9L1499.8 432.4L1474.0 456.0L1508.5 450.5L1502.6 445.9L1531.9 431.8ZM1631.7 425.8L1600.5 441.5L1600.4 434.0L1575.0 458.0L1609.5 452.0L1603.5 447.5L1634.8 431.8ZM1734.4 425.9L1683.5 455.1L1683.1 447.6L1659.0 473.0L1693.1 465.1L1686.8 460.9L1737.8 431.7ZM297.2 529.7L353.1 512.9L351.8 520.3L381.0 501.0L346.0 501.0L351.2 506.5L295.2 523.3ZM400.4 529.6L452.6 507.0L452.2 514.5L479.0 492.0L444.3 496.0L450.0 500.9L397.7 523.4ZM500.6 523.4L458.5 541.2L459.0 533.7L432.0 556.0L466.8 552.2L461.1 547.4L503.2 529.6ZM602.5 524.0L577.0 547.2L575.0 540.0L557.0 570.0L588.5 554.9L581.5 552.2L607.0 529.0ZM704.4 525.4L697.6 545.4L692.3 540.1L691.0 575.0L711.4 546.6L703.9 547.6L710.8 527.6ZM807.2 525.8L804.7 537.8L798.8 533.2L802.0 568.0L818.5 537.2L811.3 539.1L813.7 527.2ZM911.1 525.1L909.7 527.2L906.8 522.2L899.0 548.0L919.8 530.8L914.0 530.1L915.4 527.9ZM1013.0 525.6L1012.1 528.7L1006.7 523.8L1007.0 558.0L1025.6 529.2L1018.4 530.6L1019.3 527.4ZM1115.8 525.4L1104.9 556.5L1099.7 551.1L1098.0 586.0L1118.6 557.8L1111.2 558.7L1122.2 527.6ZM1218.9 525.0L1207.8 546.6L1203.3 540.6L1197.0 575.0L1221.2 549.8L1213.7 549.7L1224.8 528.0ZM1323.4 523.4L1298.4 534.1L1298.9 526.6L1272.0 549.0L1306.8 545.1L1301.0 540.2L1326.0 529.6ZM1425.5 523.8L1395.0 547.1L1393.6 539.7L1373.0 568.0L1405.7 555.7L1399.0 552.4L1429.6 529.2ZM1528.8 523.6L1486.8 546.6L1486.5 539.1L1462.0 564.0L1496.2 556.7L1490.0 552.4L1532.0 529.4ZM1631.6 523.6L1581.5 552.2L1581.1 544.7L1557.0 570.0L1591.1 562.1L1584.8 558.0L1634.9 529.4ZM1734.2 523.7L1672.2 565.4L1671.2 558.0L1649.0 585.0L1682.4 574.7L1675.9 571.0L1738.0 529.3ZM297.8 627.6L341.1 604.3L341.3 611.8L366.0 587.0L331.7 594.1L337.9 598.4L294.6 621.8ZM400.1 627.9L458.6 607.9L457.5 615.3L486.0 595.0L451.0 596.3L456.4 601.6L398.0 621.5ZM499.5 622.5L497.3 624.9L494.6 618.1L480.0 649.0L509.2 631.3L502.1 629.3L504.3 626.9ZM601.9 622.9L573.2 668.7L569.3 662.3L560.0 696.0L586.3 673.0L578.9 672.2L607.6 626.5ZM704.6 623.2L690.3 652.5L685.7 646.5L680.0 681.0L703.8 655.3L696.3 655.4L710.6 626.2ZM807.3 623.7L802.9 637.3L797.6 632.0L797.0 667.0L816.7 638.1L809.3 639.3L813.6 625.7ZM910.0 624.0L907.7 635.8L901.7 631.2L905.0 666.0L921.5 635.1L914.2 637.1L916.6 625.4ZM1012.8 624.5L1011.8 638.7L1005.4 634.9L1013.0 669.0L1025.4 636.3L1018.5 639.2L1019.5 624.9ZM1115.7 624.9L1118.0 666.1L1111.1 663.1L1123.0 696.0L1131.2 662.0L1124.7 665.7L1122.3 624.5ZM1219.8 622.0L1202.9 635.0L1201.5 627.6L1181.0 656.0L1213.7 643.6L1207.0 640.3L1223.9 627.4ZM1321.9 622.9L1311.3 639.7L1307.4 633.3L1298.0 667.0L1324.4 644.0L1316.9 643.3L1327.5 626.5ZM1425.5 622.1L1385.8 652.9L1384.3 645.5L1364.0 674.0L1396.6 661.4L1389.9 658.2L1429.6 627.3ZM1528.5 621.9L1484.2 651.5L1483.3 644.0L1461.0 671.0L1494.4 660.8L1487.9 657.1L1532.3 627.5ZM1631.2 622.0L1583.1 658.2L1581.7 650.8L1561.0 679.0L1593.8 666.9L1587.1 663.6L1635.3 627.4ZM1738.1 622.0L1703.1 595.5L1709.8 592.2L1677.0 580.0L1697.7 608.2L1699.0 600.9L1734.1 627.4ZM297.9 726.1L310.8 718.3L311.4 725.8L335.0 700.0L301.1 708.6L307.4 712.6L294.5 720.3ZM399.4 726.5L479.3 718.4L476.7 725.4L509.0 712.0L474.7 705.4L478.7 711.7L398.7 719.9ZM501.1 726.4L576.0 745.7L571.1 751.4L606.0 750.0L576.1 731.9L577.6 739.2L502.7 720.0ZM603.5 720.1L567.7 734.6L568.3 727.1L541.0 749.0L575.8 745.7L570.2 740.8L606.0 726.3ZM706.1 720.2L679.2 734.1L679.1 726.7L654.0 751.0L688.4 744.5L682.3 740.1L709.1 726.2ZM807.3 722.1L798.3 749.3L793.0 744.0L792.0 779.0L812.1 750.3L804.6 751.4L813.6 724.3ZM910.0 723.4L911.7 749.1L904.8 746.2L917.0 779.0L924.8 744.9L918.3 748.7L916.6 723.0ZM1018.1 723.2L1018.1 721.3L1021.9 723.2L1016.0 704.0L1010.4 723.2L1014.2 721.3L1014.2 723.2ZM1117.3 720.3L1104.3 727.9L1103.8 720.4L1080.0 746.0L1114.0 737.8L1107.7 733.7L1120.7 726.1ZM1220.7 720.0L1194.2 729.6L1195.1 722.2L1167.0 743.0L1201.9 741.1L1196.5 735.9L1223.0 726.4ZM1323.1 720.3L1288.7 739.4L1288.4 731.9L1264.0 757.0L1298.2 749.5L1292.0 745.3L1326.3 726.1ZM1425.1 720.9L1408.3 738.8L1405.7 731.7L1390.0 763.0L1420.3 745.5L1413.1 743.4L1430.0 725.5ZM1530.3 719.9L1487.1 720.9L1490.2 714.1L1457.0 725.0L1490.7 734.2L1487.2 727.6L1530.5 726.5ZM1635.0 720.4L1622.3 712.3L1628.7 708.4L1595.0 699.0L1617.9 725.4L1618.7 718.0L1631.5 726.0ZM1736.3 719.9L1698.3 718.1L1701.9 711.5L1668.0 720.0L1701.0 731.6L1698.0 724.8L1735.9 726.5ZM399.7 825.5L456.1 814.2L454.1 821.4L485.0 805.0L450.2 801.7L454.8 807.6L398.4 818.9ZM502.0 825.5L548.0 824.2L544.8 831.0L578.0 820.0L544.2 810.9L547.8 817.5L501.8 818.9ZM601.7 820.8L595.3 835.1L590.5 829.3L586.0 864.0L608.9 837.5L601.4 837.9L607.8 823.6ZM705.7 819.4L674.0 841.2L672.9 833.8L651.0 861.0L684.3 850.3L677.8 846.7L709.5 825.0ZM807.5 820.6L797.0 840.7L792.6 834.7L786.0 869.0L810.4 844.0L802.9 843.8L813.4 823.8ZM910.0 821.7L906.4 844.7L900.3 840.3L905.0 875.0L920.1 843.5L913.0 845.7L916.6 822.7ZM1012.9 821.4L1004.0 856.9L998.3 852.1L1000.0 887.0L1017.9 856.9L1010.5 858.6L1019.4 823.0ZM1115.9 821.0L1106.4 846.6L1101.3 841.1L1099.0 876.0L1120.1 848.1L1112.6 848.9L1122.1 823.4ZM1219.3 820.0L1189.9 854.8L1186.9 847.9L1173.0 880.0L1202.3 860.9L1195.0 859.1L1224.4 824.4ZM1323.0 819.3L1299.4 833.0L1298.9 825.5L1275.0 851.0L1309.0 842.9L1302.8 838.8L1326.4 825.1ZM1430.2 820.2L1403.0 784.9L1410.4 783.4L1382.0 763.0L1394.5 795.7L1397.7 788.9L1424.9 824.2ZM1533.4 820.7L1527.9 810.2L1535.4 810.1L1511.0 785.0L1517.6 819.4L1522.0 813.3L1527.4 823.7ZM1635.8 820.0L1626.4 809.4L1633.7 807.5L1604.0 789.0L1618.6 820.8L1621.4 813.8L1630.7 824.4ZM1735.8 818.9L1705.7 821.8L1708.4 814.8L1676.0 828.0L1710.3 834.8L1706.3 828.4L1736.4 825.5ZM401.0 924.2L409.4 918.2L410.6 925.6L432.0 898.0L398.9 909.3L405.5 912.8L397.1 918.8ZM502.7 924.8L538.4 916.2L536.7 923.5L567.0 906.0L532.1 904.0L536.9 909.7L501.1 918.2ZM606.5 924.4L640.7 904.2L641.2 911.7L665.0 886.0L631.0 894.3L637.3 898.4L603.0 918.6ZM704.7 919.8L687.2 950.2L683.0 944.0L675.0 978.0L700.4 954.0L693.0 953.6L710.5 923.2ZM807.2 920.5L795.7 958.2L790.2 953.0L790.0 988.0L809.5 958.9L802.1 960.2L813.7 922.5ZM910.0 921.9L915.0 963.5L908.0 961.0L922.0 993.0L927.9 958.5L921.7 962.7L916.6 921.1ZM1018.5 919.1L967.0 869.5L974.1 867.0L943.0 851.0L960.1 881.5L962.4 874.3L1013.8 923.9ZM1121.6 919.4L1067.7 853.2L1075.0 851.6L1046.0 832.0L1059.4 864.3L1062.5 857.5L1116.4 923.6ZM1222.9 918.3L1207.7 913.3L1213.0 908.0L1178.0 907.0L1206.7 927.1L1205.6 919.6L1220.8 924.7ZM1326.5 918.7L1310.2 908.3L1316.7 904.5L1283.0 895.0L1305.9 921.4L1306.6 914.0L1322.9 924.3ZM1429.2 918.6L1404.7 904.3L1411.0 900.2L1377.0 892.0L1400.9 917.6L1401.4 910.1L1425.9 924.4ZM1529.7 918.2L1519.8 920.4L1521.6 913.1L1491.0 930.0L1525.9 932.8L1521.2 926.9L1531.1 924.8ZM1631.2 918.8L1621.9 926.0L1620.5 918.6L1600.0 947.0L1632.7 934.6L1626.0 931.3L1635.3 924.2ZM1733.6 919.3L1718.2 937.0L1715.3 930.1L1701.0 962.0L1730.5 943.3L1723.3 941.4L1738.6 923.7ZM401.8 1019.3L388.5 999.3L395.9 998.3L369.0 976.0L379.2 1009.5L382.9 1003.0L396.3 1023.1ZM502.9 1024.4L552.2 1009.1L551.0 1016.5L580.0 997.0L545.0 997.3L550.2 1002.7L500.9 1018.0ZM607.7 1019.6L586.4 980.8L593.9 980.5L569.0 956.0L576.3 990.2L580.6 984.0L601.8 1022.8ZM710.5 1019.5L682.0 970.4L689.5 969.9L664.0 946.0L672.1 980.0L676.2 973.8L704.7 1022.9ZM812.5 1018.5L762.1 980.5L768.8 977.2L736.0 965.0L756.7 993.2L758.0 985.8L808.4 1023.9ZM916.0 1019.2L874.5 962.4L881.9 961.1L854.0 940.0L865.6 973.0L869.1 966.3L910.6 1023.2ZM1018.1 1018.4L964.7 981.4L971.3 977.8L938.0 967.0L959.8 994.3L960.9 986.9L1014.2 1024.0ZM1120.8 1018.4L1077.2 990.4L1083.6 986.6L1050.0 977.0L1072.8 1003.5L1073.6 996.1L1117.2 1024.0ZM1223.0 1018.1L1178.4 1001.4L1183.9 996.3L1149.0 994.0L1176.9 1015.1L1176.1 1007.7L1220.7 1024.3ZM1324.9 1017.9L1309.3 1016.8L1313.1 1010.3L1279.0 1018.0L1311.7 1030.4L1308.8 1023.4L1324.5 1024.5ZM1425.6 1018.5L1413.7 1026.9L1412.6 1019.5L1391.0 1047.0L1424.2 1035.9L1417.6 1032.3L1429.5 1023.9ZM1528.3 1018.6L1505.3 1037.4L1503.6 1030.0L1484.0 1059.0L1516.3 1045.6L1509.5 1042.6L1532.5 1023.8ZM1630.4 1019.4L1612.6 1046.9L1608.8 1040.4L1599.0 1074.0L1625.7 1051.4L1618.2 1050.5L1636.1 1023.0ZM1733.0 1019.8L1717.3 1055.1L1712.5 1049.3L1708.0 1084.0L1730.9 1057.5L1723.4 1057.8L1739.2 1022.6ZM400.0 1118.0L345.8 1101.5L351.0 1096.1L316.0 1096.0L345.1 1115.3L343.9 1108.0L398.1 1124.4ZM505.2 1120.7L489.2 1022.2L496.3 1024.4L481.0 993.0L476.5 1027.7L482.5 1023.3L498.6 1121.7ZM607.1 1118.8L548.6 1060.0L555.7 1057.7L525.0 1041.0L541.5 1071.8L543.9 1064.7L602.4 1123.6ZM710.2 1119.0L668.9 1069.9L676.2 1068.2L647.0 1049.0L660.8 1081.1L663.8 1074.2L705.0 1123.4ZM812.4 1118.5L752.5 1075.8L759.1 1072.3L726.0 1061.0L747.4 1088.6L748.6 1081.2L808.5 1123.9ZM915.0 1118.3L859.5 1084.7L865.9 1080.7L832.0 1072.0L855.5 1097.9L856.1 1090.5L911.6 1124.1ZM1017.3 1118.0L963.5 1098.9L968.9 1093.8L934.0 1092.0L962.2 1112.7L961.3 1105.3L1015.0 1124.4ZM1119.7 1117.9L1078.1 1108.4L1082.9 1102.7L1048.0 1105.0L1078.4 1122.3L1076.6 1115.0L1118.3 1124.5ZM1221.1 1117.9L1191.6 1124.9L1193.3 1117.6L1163.0 1135.0L1197.9 1137.1L1193.1 1131.4L1222.6 1124.5ZM1322.7 1118.5L1311.5 1126.6L1310.3 1119.2L1289.0 1147.0L1322.0 1135.5L1315.4 1132.1L1326.7 1123.9ZM1425.8 1118.4L1405.7 1131.1L1404.9 1123.6L1382.0 1150.0L1415.7 1140.6L1409.3 1136.7L1429.3 1124.0ZM1527.9 1118.9L1502.8 1146.5L1500.1 1139.5L1485.0 1171.0L1515.0 1153.0L1507.8 1151.0L1532.9 1123.5ZM1630.3 1119.6L1609.1 1159.8L1604.7 1153.7L1598.0 1188.0L1622.5 1163.1L1615.0 1162.9L1636.2 1122.8ZM1733.0 1120.0L1713.9 1168.7L1708.9 1163.1L1706.0 1198.0L1727.6 1170.5L1720.1 1171.2L1739.2 1122.4ZM399.4 1218.2L328.3 1210.8L332.4 1204.5L298.0 1211.0L330.3 1224.5L327.6 1217.4L398.7 1224.8ZM504.9 1219.9L481.4 1175.2L488.9 1175.0L464.5 1150.0L471.1 1184.3L475.5 1178.3L498.9 1223.1ZM607.2 1219.2L565.4 1176.3L572.6 1174.0L542.0 1157.0L558.2 1188.0L560.6 1180.9L602.3 1223.8ZM709.3 1218.6L670.8 1196.6L677.1 1192.4L643.0 1184.5L667.1 1209.9L667.5 1202.4L705.9 1224.4ZM810.8 1218.2L776.3 1214.7L780.3 1208.4L746.0 1215.0L778.3 1228.4L775.7 1221.4L810.1 1224.8ZM913.0 1218.2L863.8 1222.2L866.6 1215.2L834.0 1228.0L868.2 1235.3L864.3 1228.9L913.6 1224.8ZM1015.5 1218.2L978.9 1225.7L980.8 1218.5L950.0 1235.0L984.8 1238.1L980.2 1232.3L1016.8 1224.8ZM1117.3 1218.6L1094.4 1231.9L1093.9 1224.5L1070.0 1250.0L1104.0 1241.8L1097.7 1237.7L1120.7 1224.4ZM1218.8 1220.1L1199.7 1261.2L1195.0 1255.4L1190.0 1290.0L1213.2 1263.9L1205.7 1264.1L1224.9 1222.9ZM1321.6 1220.2L1303.9 1261.0L1299.1 1255.3L1295.0 1290.0L1317.5 1263.3L1310.1 1263.7L1327.8 1222.8ZM1424.4 1220.2L1408.1 1260.8L1403.2 1255.2L1400.0 1290.0L1421.8 1262.7L1414.4 1263.3L1430.7 1222.8ZM1527.3 1220.1L1509.2 1261.1L1504.4 1255.3L1500.0 1290.0L1522.8 1263.5L1515.3 1263.8L1533.5 1222.9Z" fill="#000"/>
</g>
<rect x="296.5" y="293.5" width="1471.0" height="929.0" fill="none" stroke="#000" stroke-width="3"/>
<text transform="translate(1033.0,211.3) scale(1,1.1067)" font-size="50" text-anchor="middle">WS-10m(kmph) @ 20251021<tspan dy="5">_</tspan><tspan dy="-5">12</tspan></text>
<text transform="translate(1033.0,269.2) scale(1,1.1067)" font-size="50" text-anchor="middle">Simulation Time: 20251018<tspan dy="5">_</tspan><tspan dy="-5">12</tspan></text>
<text transform="translate(276.5,1122.8) scale(1,1.1067)" font-size="41.67" text-anchor="end">13°N</text>
<text transform="translate(276.5,996.2) scale(1,1.1067)" font-size="41.67" text-anchor="end">14°N</text>
<text transform="translate(276.5,869.6) scale(1,1.1067)" font-size="41.67" text-anchor="end">15°N</text>
<text transform="translate(276.5,743.0) scale(1,1.1067)" font-size="41.67" text-anchor="end">16°N</text>
<text transform="translate(276.5,616.4) scale(1,1.1067)" font-size="41.67" text-anchor="end">17°N</text>
<text transform="translate(276.5,489.8) scale(1,1.1067)" font-size="41.67" text-anchor="end">18°N</text>
<text transform="translate(276.5,363.2) scale(1,1.1067)" font-size="41.67" text-anchor="end">19°N</text>
<text transform="translate(320.9,1275.7) scale(1,1.1067)" font-size="41.67" text-anchor="middle">42°E</text>
<text transform="translate(510.8,1275.7) scale(1,1.1067)" font-size="41.67" text-anchor="middle">43.5°E</text>
<text transform="translate(700.7,1275.7) scale(1,1.1067)" font-size="41.67" text-anchor="middle">45°E</text>
<text transform="translate(890.6,1275.7) scale(1,1.1067)" font-size="41.67" text-anchor="middle">46.5°E</text>
<text transform="translate(1080.5,1275.7) scale(1,1.1067)" font-size="41.67" text-anchor="middle">48°E</text>
<text transform="translate(1270.4,1275.7) scale(1,1.1067)" font-size="41.67" text-anchor="middle">49.5°E</text>
<text transform="translate(1460.3,1275.7) scale(1,1.1067)" font-size="41.67" text-anchor="middle">51°E</text>
<text transform="translate(1650.2,1275.7) scale(1,1.1067)" font-size="41.67" text-anchor="middle">52.5°E</text>
<rect x="1859.5" y="1178" width="56.0" height="156" fill="#fcfed3"/>
<rect x="1859.5" y="1021" width="56.0" height="157" fill="#f3fabd"/>
<rect x="1859.5" y="864" width="56.0" height="157" fill="#d1edb3"/>
<rect x="1859.5" y="706.5" width="56.0" height="157.5" fill="#76cabc"/>
<rect x="1859.5" y="549" width="56.0" height="157.5" fill="#2ea3c2"/>
<rect x="1859.5" y="392" width="56.0" height="157" fill="#2262aa"/>
<rect x="1859.5" y="235" width="56.0" height="157" fill="#1c2d81"/>
<polygon points="1859.5,235 1887.5,181.5 1915.5,235" fill="#081d58"/>
<path d="M1859.5 235L1887.5 181.5L1915.5 235V1334H1859.5Z" fill="none" stroke="#000" stroke-width="3" stroke-linejoin="miter"/>
<path d="M1915.5 1334H1932M1915.5 1178H1932M1915.5 1021H1932M1915.5 864H1932M1915.5 706.5H1932M1915.5 549H1932M1915.5 392H1932M1915.5 235H1932" stroke="#000" stroke-width="3"/>
<text transform="translate(1947.0,1349.2) scale(1,1.1067)" font-size="41.67" text-anchor="start">5</text>
<text transform="translate(1947.0,1193.2) scale(1,1.1067)" font-size="41.67" text-anchor="start">10</text>
<text transform="translate(1947.0,1036.2) scale(1,1.1067)" font-size="41.67" text-anchor="start">20</text>
<text transform="translate(1947.0,879.2) scale(1,1.1067)" font-size="41.67" text-anchor="start">40</text>
<text transform="translate(1947.0,721.7) scale(1,1.1067)" font-size="41.67" text-anchor="start">60</text>
<text transform="translate(1947.0,564.2) scale(1,1.1067)" font-size="41.67" text-anchor="start">80</text>
<text transform="translate(1947.0,407.2) scale(1,1.1067)" font-size="41.67" text-anchor="start">100</text>
<text transform="translate(1947.0,250.2) scale(1,1.1067)" font-size="41.67" text-anchor="start">120</text>
</svg></body></html>
